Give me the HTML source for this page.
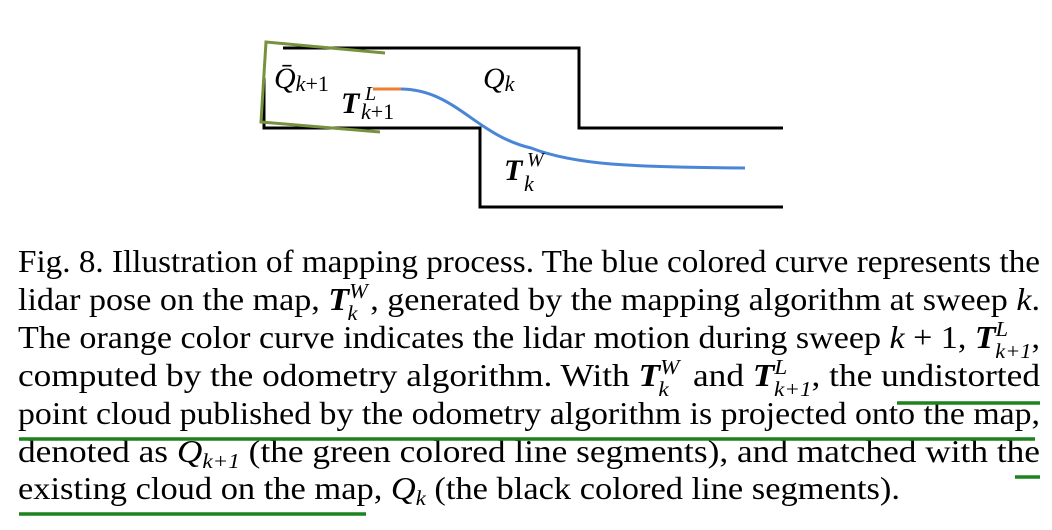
<!DOCTYPE html>
<html><head><meta charset="utf-8"><style>
html,body{margin:0;padding:0;background:#fff;}
svg{display:block;}
.cap{font-family:"Liberation Serif",serif;font-size:32px;fill:#000;}
.m{font-style:italic;}
.b{font-weight:bold;font-style:italic;}
</style></head><body>
<svg width="1052" height="530" viewBox="0 0 1052 530">
 <g fill="none">
  <polyline points="283,48 579,48 579,128 783,128" stroke="#000" stroke-width="3"/>
  <polyline points="264,78 264,128 480,128 480,207 783,207" stroke="#000" stroke-width="3"/>
  <polyline points="385,53 266,42 261,122 380,132" stroke="#76923c" stroke-width="3"/>
  <path d="M400,89 C455,89 475,135 531,148 C575,165 630,167 745,168" stroke="#4a86d8" stroke-width="3"/>
  <line x1="373" y1="89" x2="401" y2="89" stroke="#ed7d31" stroke-width="3"/>
 </g>
 <g font-family="Liberation Serif, serif" fill="#000">
  <text x="274" y="88" font-size="30" font-style="italic">Q̄<tspan font-size="22" dy="3"><tspan font-style="italic">k</tspan><tspan font-style="normal">+1</tspan></tspan></text>
  <text x="483" y="88" font-size="30" font-style="italic">Q<tspan font-size="22" dy="3">k</tspan></text>
  <text x="341" y="113" font-size="30" font-weight="bold" font-style="italic">T</text>
  <text x="365" y="100" font-size="20" font-style="italic" font-family="Liberation Serif, serif">L</text>
  <text x="361" y="119" font-size="22" font-family="Liberation Serif, serif"><tspan font-style="italic">k</tspan>+1</text>
  <text x="504" y="180" font-size="30" font-weight="bold" font-style="italic">T</text>
  <text x="527" y="166" font-size="20" font-style="italic" font-family="Liberation Serif, serif">W</text>
  <text x="524" y="191" font-size="22" font-style="italic" font-family="Liberation Serif, serif">k</text>
 </g>
 <g class="cap">
  <text x="18" y="272" textLength="1022" lengthAdjust="spacingAndGlyphs">Fig. 8.   Illustration of mapping process. The blue colored curve represents the</text>
  <text x="18" y="310" textLength="1022" lengthAdjust="spacingAndGlyphs">lidar pose on the map, <tspan class="b">T</tspan><tspan font-size="21" class="m" dy="-12">W</tspan><tspan font-size="21" class="m" dx="-19" dy="22">k</tspan><tspan dy="-10" dx="12">, generated by the mapping algorithm at sweep </tspan><tspan class="m">k</tspan>.</text>
  <text x="18" y="348" textLength="1022" lengthAdjust="spacingAndGlyphs">The orange color curve indicates the lidar motion during sweep <tspan class="m">k</tspan> + 1, <tspan class="b">T</tspan><tspan font-size="21" class="m" dy="-12">L</tspan><tspan font-size="21" class="m" dx="-12" dy="22">k+1</tspan><tspan dy="-10">,</tspan></text>
  <text x="18" y="386" textLength="1022" lengthAdjust="spacingAndGlyphs">computed by the odometry algorithm. With <tspan class="b">T</tspan><tspan font-size="21" class="m" dy="-12">W</tspan><tspan font-size="21" class="m" dx="-19" dy="22">k</tspan><tspan dy="-10" dx="14"> and </tspan><tspan class="b">T</tspan><tspan font-size="21" class="m" dy="-12">L</tspan><tspan font-size="21" class="m" dx="-12" dy="22">k+1</tspan><tspan dy="-10">, the undistorted</tspan></text>
  <text x="18" y="424" textLength="1022" lengthAdjust="spacingAndGlyphs">point cloud published by the odometry algorithm is projected onto the map,</text>
  <text x="18" y="462" textLength="1022" lengthAdjust="spacingAndGlyphs">denoted as <tspan class="m">Q̄</tspan><tspan font-size="21" class="m" dy="6">k+1</tspan><tspan dy="-6"> (the green colored line segments), and matched with the</tspan></text>
  <text x="18" y="499" textLength="882" lengthAdjust="spacingAndGlyphs">existing cloud on the map, <tspan class="m">Q</tspan><tspan font-size="21" class="m" dy="6">k</tspan><tspan dy="-6"> (the black colored line segments).</tspan></text>
 </g>
 <g stroke="#1e821e" stroke-width="3.5">
  <line x1="897" y1="403" x2="1040" y2="403"/>
  <line x1="19" y1="439" x2="1035" y2="439"/>
  <line x1="1015" y1="477" x2="1040" y2="477"/>
  <line x1="19" y1="514" x2="366" y2="514"/>
 </g>
</svg>
</body></html>
